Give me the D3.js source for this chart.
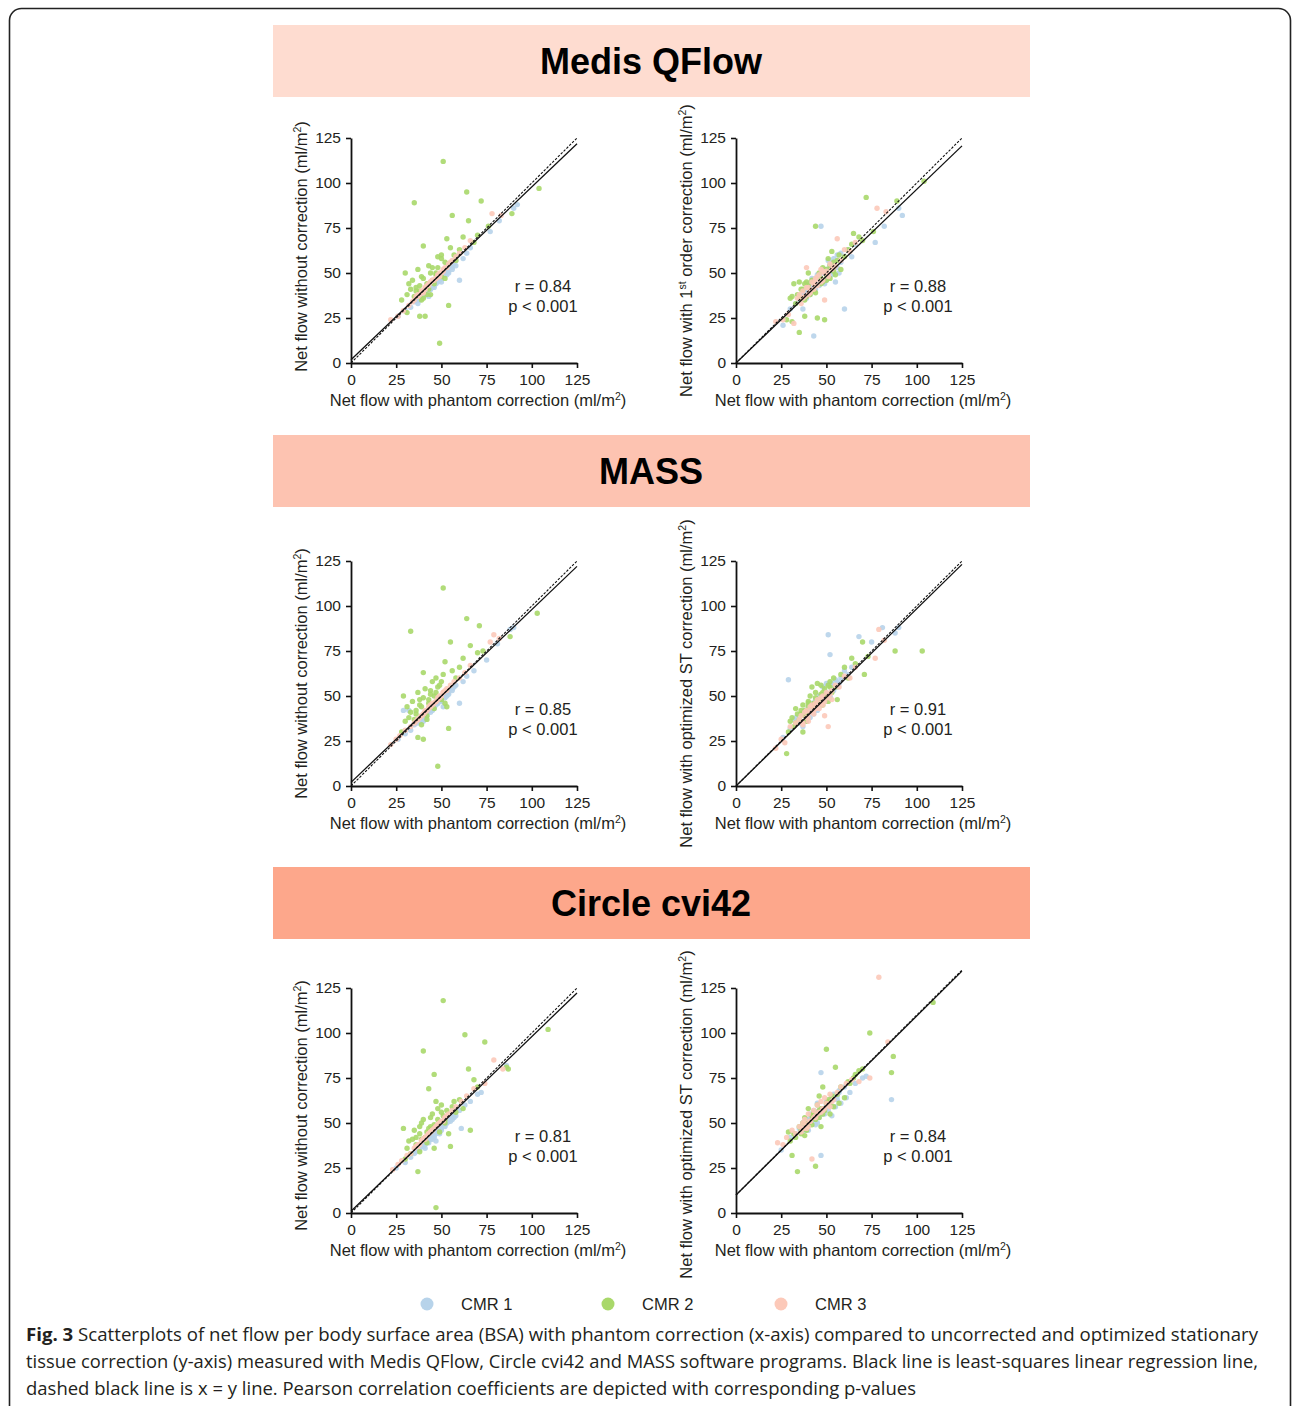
<!DOCTYPE html>
<html>
<head>
<meta charset="utf-8">
<script src="https://cdn.jsdelivr.net/npm/d3@7"></script>
<style>
  html, body { margin: 0; padding: 0; background: #fff; }
  svg text { font-family: "Liberation Sans", Arial, sans-serif; fill: #231f20; }
</style>
</head>
<body>
<svg id="fig" width="1293" height="1406"></svg>
<script>
// ---- data ----
const softwares = ["Medis QFlow", "MASS", "Circle cvi42"];
const series = ["CMR 1", "CMR 2", "CMR 3"];
const seriesColors = ["#b7d3ea", "#a9d86a", "#fcc9b9"];
const bandColors = ["#fedcd0", "#fdc3b1", "#fda78b"];
const ticks = [0, 25, 50, 75, 100, 125];
const stats = [["0.84", "0.88"], ["0.85", "0.91"], ["0.81", "0.84"]];

// Medis QFlow
const medisX1 = [26, 30, 33, 35, 36, 37, 38, 39, 40, 41, 42, 43, 43, 44, 45, 46, 47, 47, 48, 49, 50, 50, 51, 52, 53, 54, 55, 56, 57, 58, 60, 62, 64, 66, 77, 82, 90, 92,
  38, 40, 42, 44, 46, 48, 50, 52, 54, 56, 58, 41, 45, 49, 53];
const medisNoCorr1 = [26, 29, 31, 34, 35, 33, 36, 37, 38, 40, 39, 42, 37, 41, 44, 42, 45, 44, 47, 46, 48, 45, 50, 49, 52, 50, 54, 53, 55, 57, 46, 58, 61, 64, 73, 79, 86, 88,
  35, 37, 40, 41, 43, 45, 47, 49, 51, 52, 54, 38, 42, 46, 49];
const medisFirst1 = [21, 30, 33, 35, 38, 30, 40, 36, 44, 38, 47, 15, 45, 41, 48, 43, 76, 46, 50, 44, 52, 47, 57, 54, 49, 58, 45, 60, 50, 56, 30, 63, 59, 66, 67, 76, 86, 82,
  39, 42, 40, 47, 44, 51, 46, 55, 50, 53, 61, 43, 49, 45, 56];
const medisX2 = [28, 30, 31, 31, 32, 33, 34, 35, 35, 36, 37, 38, 38, 39, 40, 40, 41, 42, 43, 44, 45, 46, 47, 48, 49, 50, 50, 51, 52, 53, 54, 55, 56, 57, 58, 60, 62, 64, 65, 68, 70, 72, 76, 89, 104,
  36, 38, 40, 42, 44, 46, 48, 50, 52, 54, 39, 43, 47];
const medisNoCorr2 = [35, 50, 28, 38, 44, 41, 46, 89, 37, 42, 52, 26, 40, 48, 65, 36, 26, 44, 54, 38, 53, 46, 50, 59, 11, 60, 48, 112, 56, 69, 32, 64, 82, 60, 57, 63, 70, 95, 79, 67, 71, 90, 76, 83, 97,
  40, 43, 47, 38, 50, 44, 53, 58, 47, 55, 35, 41, 49];
const medisFirst2 = [24, 36, 23, 37, 44, 33, 38, 17, 45, 36, 41, 26, 44, 37, 42, 50, 38, 45, 40, 76, 25, 48, 44, 53, 24, 52, 46, 58, 47, 62, 56, 49, 57, 60, 52, 59, 63, 66, 72, 70, 68, 92, 73, 90, 101,
  41, 35, 43, 46, 39, 50, 45, 49, 54, 51, 45, 40, 47];
const medisX3 = [22, 26, 29, 32, 34, 35, 36, 37, 38, 39, 40, 41, 42, 43, 44, 45, 46, 47, 48, 49, 50, 51, 52, 54, 56, 58, 60, 63, 66, 78, 83,
  37, 39, 41, 43, 45, 47, 49, 51, 53, 55, 40, 44, 48];
const medisNoCorr3 = [24, 26, 29, 32, 34, 35, 37, 37, 38, 39, 40, 42, 43, 44, 45, 46, 46, 47, 49, 50, 50, 52, 53, 55, 57, 59, 61, 64, 68, 83, 82,
  38, 40, 41, 43, 46, 47, 48, 51, 53, 56, 39, 45, 48];
const medisFirst3 = [23, 24, 27, 22, 36, 38, 33, 40, 37, 53, 42, 39, 45, 41, 47, 43, 49, 52, 46, 35, 51, 48, 55, 53, 69, 57, 63, 62, 67, 86, 84,
  36, 42, 40, 44, 48, 45, 50, 49, 52, 54, 38, 46, 51];

// MASS
const massX1 = [26, 29, 30, 32, 33, 35, 36, 37, 38, 39, 40, 41, 42, 43, 44, 45, 46, 47, 48, 49, 50, 51, 52, 52, 53, 54, 55, 56, 58, 60, 62, 64, 68, 75, 81, 88, 90,
  38, 40, 42, 44, 46, 48, 50, 52, 54, 56, 41, 45, 49, 53, 57];
const massNoCorr1 = [26, 42, 29, 42, 31, 34, 36, 35, 37, 38, 36, 40, 39, 42, 41, 44, 43, 45, 46, 48, 47, 44, 50, 49, 52, 51, 54, 53, 56, 46, 58, 61, 64, 70, 79, 87, 88,
  36, 38, 41, 42, 44, 46, 48, 50, 52, 54, 37, 42, 47, 50, 55];
const massOptST1 = [27, 59, 32, 37, 38, 35, 40, 33, 42, 36, 44, 38, 46, 40, 48, 43, 50, 45, 55, 47, 57, 84, 73, 49, 57, 53, 59, 55, 60, 64, 62, 66, 83, 80, 88, 85, 88,
  39, 41, 43, 45, 47, 49, 52, 50, 56, 58, 44, 42, 50, 54, 57];
const massX2 = [28, 29, 30, 31, 32, 33, 33, 34, 35, 36, 37, 37, 38, 39, 40, 40, 41, 42, 43, 44, 45, 46, 47, 48, 49, 50, 51, 52, 53, 54, 55, 56, 58, 60, 62, 64, 66, 70, 71, 73, 88, 103,
  36, 38, 40, 42, 44, 46, 48, 50, 52, 39, 43, 47, 51];
const massNoCorr2 = [30, 50, 36, 44, 38, 86, 41, 47, 37, 42, 27, 52, 48, 44, 26, 63, 54, 39, 46, 53, 58, 50, 60, 11, 56, 48, 110, 69, 44, 32, 80, 64, 60, 66, 71, 93, 78, 74, 89, 75, 83, 96,
  40, 45, 49, 37, 51, 43, 55, 58, 46, 34, 48, 52, 62];
const massOptST2 = [18, 30, 36, 38, 33, 43, 35, 40, 37, 42, 30, 45, 39, 41, 47, 44, 50, 55, 46, 52, 57, 48, 56, 45, 54, 50, 47, 58, 52, 60, 55, 48, 62, 66, 60, 71, 68, 80, 62, 72, 75, 75,
  40, 42, 46, 44, 49, 47, 52, 50, 55, 36, 45, 51, 56];
const massX3 = [22, 25, 27, 30, 33, 35, 36, 37, 38, 39, 40, 41, 42, 43, 44, 45, 46, 47, 48, 49, 50, 51, 53, 55, 57, 60, 63, 66, 77, 79, 82,
  37, 39, 41, 43, 45, 47, 49, 51, 53, 40, 44, 48, 52];
const massNoCorr3 = [23, 26, 28, 31, 33, 35, 36, 37, 38, 39, 40, 41, 42, 43, 44, 45, 46, 47, 48, 49, 50, 52, 54, 56, 58, 60, 63, 67, 80, 84, 82,
  37, 39, 42, 44, 46, 47, 50, 52, 53, 40, 45, 49, 53];
const massOptST3 = [21, 26, 24, 33, 35, 37, 39, 34, 41, 42, 38, 44, 45, 40, 46, 48, 43, 49, 50, 39, 52, 33, 53, 56, 55, 61, 60, 66, 71, 87, 81,
  35, 38, 41, 42, 44, 46, 47, 49, 48, 36, 43, 45, 51];

// Circle cvi42
const circleX1 = [25, 30, 33, 35, 36, 37, 38, 39, 40, 41, 42, 43, 44, 45, 46, 47, 47, 48, 49, 50, 51, 52, 53, 54, 55, 56, 57, 58, 60, 61, 63, 66, 70, 72, 86,
  38, 40, 42, 44, 46, 48, 50, 52, 54, 56, 41, 45, 49, 53, 57];
const circleNoCorr1 = [25, 28, 31, 33, 34, 36, 35, 37, 38, 36, 40, 39, 41, 43, 42, 44, 40, 46, 45, 47, 49, 48, 50, 52, 51, 53, 55, 54, 57, 47, 60, 62, 66, 67, 82,
  36, 37, 39, 42, 43, 45, 46, 49, 51, 52, 38, 41, 44, 50, 53];
const circleOptST1 = [35, 42, 44, 47, 45, 50, 48, 52, 46, 55, 51, 57, 49, 61, 53, 32, 78, 58, 55, 62, 57, 60, 54, 66, 59, 63, 68, 61, 70, 64, 67, 72, 75, 76, 63,
  46, 49, 52, 54, 57, 55, 60, 62, 63, 65, 53, 50, 58, 64, 67];
const circleX2 = [29, 30, 31, 32, 33, 34, 35, 36, 37, 38, 38, 39, 40, 41, 42, 43, 44, 45, 46, 46, 47, 48, 49, 50, 51, 52, 53, 54, 55, 56, 57, 58, 60, 62, 63, 65, 66, 68, 70, 74, 86, 87, 109,
  36, 38, 40, 42, 44, 46, 48, 50, 52, 39, 43, 47, 51];
const circleNoCorr2 = [47, 30, 36, 40, 33, 41, 46, 38, 23, 34, 44, 50, 90, 42, 39, 69, 48, 55, 77, 36, 3, 52, 45, 60, 118, 50, 57, 44, 37, 59, 62, 56, 63, 58, 99, 80, 46, 74, 70, 95, 81, 80, 102,
  42, 48, 52, 45, 53, 49, 58, 56, 52, 41, 47, 62, 54];
const circleOptST2 = [45, 40, 32, 44, 42, 23, 48, 46, 50, 43, 53, 47, 58, 51, 49, 56, 26, 60, 53, 65, 48, 70, 57, 91, 62, 55, 65, 59, 81, 66, 61, 70, 64, 73, 72, 75, 77, 79, 80, 100, 78, 87, 117,
  44, 50, 49, 54, 52, 57, 55, 61, 60, 46, 55, 58, 63];
const circleX3 = [23, 26, 28, 31, 33, 35, 36, 37, 38, 39, 40, 41, 42, 43, 44, 45, 46, 47, 48, 49, 50, 52, 54, 56, 58, 61, 64, 68, 74, 79, 84,
  37, 39, 41, 43, 45, 47, 49, 51, 53, 40, 44, 48, 52];
const circleNoCorr3 = [24, 27, 29, 32, 33, 36, 37, 37, 38, 40, 41, 41, 43, 44, 45, 46, 47, 48, 49, 50, 51, 53, 55, 57, 59, 62, 65, 69, 72, 85, 80,
  38, 40, 42, 44, 46, 48, 50, 51, 54, 41, 45, 49, 53];
const circleOptST3 = [39, 38, 42, 46, 44, 48, 45, 50, 52, 47, 55, 51, 30, 57, 53, 60, 56, 62, 58, 64, 61, 66, 63, 67, 70, 72, 74, 73, 75, 131, 95,
  47, 49, 51, 53, 55, 56, 58, 60, 62, 48, 54, 57, 59];

// regression line [intercept, slope] and identity (dashed) line per panel
const regLines = [[[1.8, 0.96], [0, 0.965]], [[2, 0.96], [0, 0.985]], [[1, 0.97], [10, 0.995]]];
const idLines = [[[0, 1], [0, 1]], [[0, 1], [0, 1]], [[0, 1], [10, 1]]];

const xData = [
  [medisX1, medisX2, medisX3],
  [massX1, massX2, massX3],
  [circleX1, circleX2, circleX3]
];
const yData = [
  [[medisNoCorr1, medisNoCorr2, medisNoCorr3], [medisFirst1, medisFirst2, medisFirst3]],
  [[massNoCorr1, massNoCorr2, massNoCorr3], [massOptST1, massOptST2, massOptST3]],
  [[circleNoCorr1, circleNoCorr2, circleNoCorr3], [circleOptST1, circleOptST2, circleOptST3]]
];

const captionLines = [
  "Scatterplots of net flow per body surface area (BSA) with phantom correction (x-axis) compared to uncorrected and optimized stationary",
  "tissue correction (y-axis) measured with Medis QFlow, Circle cvi42 and MASS software programs. Black line is least-squares linear regression line,",
  "dashed black line is x = y line. Pearson correlation coefficients are depicted with corresponding p-values"
];

// ---- drawing ----
const svg = d3.select("#fig");

// outer frame
svg.append("rect")
  .attr("x", 9.5).attr("y", 8.5)
  .attr("width", 1281).attr("height", 1430)
  .attr("rx", 12)
  .style("fill", "none")
  .style("stroke", "#222")
  .style("stroke-width", 1.6);

const bandTops = [25, 435, 867];
const plotTops = [138, 561, 988];
const plotLefts = [351, 736];
const plotW = 226, plotH = 225;
// vertical nudge of the rotated y titles
const yLabelShift = [[-4, 0], [0, 10], [5, 14]];

const yLabelFor = (row, col) => {
  if (col === 0) return [["Net flow without correction (ml/m", false], ["2", true], [")", false]];
  if (row === 0) return [["Net flow with 1", false], ["st", true], [" order correction (ml/m", false], ["2", true], [")", false]];
  return [["Net flow with optimized ST correction (ml/m", false], ["2", true], [")", false]];
};

const addRich = (textSel, parts) => {
  parts.forEach(([t, sup]) => {
    const ts = textSel.append("tspan").text(t);
    if (sup) ts.attr("baseline-shift", "super").style("font-size", "10.5px");
  });
};

softwares.forEach((name, row) => {
  // title band
  svg.append("rect")
    .attr("x", 273).attr("y", bandTops[row])
    .attr("width", 757).attr("height", 72)
    .style("fill", bandColors[row]);
  svg.append("text")
    .attr("x", 651).attr("y", bandTops[row] + 49)
    .attr("text-anchor", "middle")
    .style("font-size", "36px")
    .style("font-weight", "bold")
    .style("fill", "#000")
    .text(name);

  [0, 1].forEach((col) => {
    const x0 = plotLefts[col], y0 = plotTops[row];
    const g = svg.append("g").attr("transform", `translate(${x0},${y0})`);
    const x = d3.scaleLinear().domain([0, 125]).range([0, plotW]);
    const y = d3.scaleLinear().domain([0, 125]).range([plotH, 0]);

    // points
    series.forEach((s, si) => {
      const xs = xData[row][si];
      const ys = yData[row][col][si];
      g.append("g")
        .selectAll("circle")
        .data(xs.map((v, i) => [v, ys[i]]))
        .enter()
        .append("circle")
        .attr("cx", (d) => x(d[0]))
        .attr("cy", (d) => y(d[1]))
        .attr("r", 2.7)
        .style("fill", seriesColors[si])
        .style("fill-opacity", 0.9);
    });

    // x = y dashed line
    const [ia, ib] = idLines[row][col];
    g.append("line")
      .attr("x1", x(0)).attr("y1", y(ia))
      .attr("x2", x(125)).attr("y2", y(ia + ib * 125))
      .style("stroke", "#111")
      .style("stroke-width", 1.1)
      .style("stroke-dasharray", "2.5,1.5");

    // regression line
    const [ra, rb] = regLines[row][col];
    g.append("line")
      .attr("x1", x(0)).attr("y1", y(ra))
      .attr("x2", x(125)).attr("y2", y(ra + rb * 125))
      .style("stroke", "#111")
      .style("stroke-width", 1.3);

    // axes
    const xAxis = g.append("g")
      .attr("transform", `translate(0,${plotH})`)
      .call(d3.axisBottom(x).tickValues(ticks).tickSize(5).tickSizeOuter(0).tickPadding(6));
    const yAxis = g.append("g")
      .call(d3.axisLeft(y).tickValues(ticks).tickSize(5).tickSizeOuter(0).tickPadding(5));
    [xAxis, yAxis].forEach((a) => {
      a.select(".domain").style("stroke", "#111").style("stroke-width", 1.8);
      a.selectAll(".tick line").style("stroke", "#111").style("stroke-width", 1.6);
      a.selectAll(".tick text")
        .style("font-size", "15.5px")
        .style("font-family", '"Liberation Sans", Arial, sans-serif')
        .style("fill", "#231f20");
    });

    // axis titles
    const xl = g.append("text")
      .attr("x", plotW / 2 + 14).attr("y", plotH + 43)
      .attr("text-anchor", "middle")
      .style("font-size", "16.5px");
    addRich(xl, [["Net flow with phantom correction (ml/m", false], ["2", true], [")", false]]);

    const yl = g.append("text")
      .attr("transform", `translate(-44,${plotH / 2 + yLabelShift[row][col]}) rotate(-90)`)
      .attr("text-anchor", "middle")
      .style("font-size", "16.5px");
    addRich(yl, yLabelFor(row, col));

    // r / p annotation
    const ax = col === 0 ? 192 : 182;
    g.append("text")
      .attr("x", ax).attr("y", y(40) + 1)
      .attr("text-anchor", "middle")
      .style("font-size", "16.5px")
      .text(`r = ${stats[row][col]}`);
    g.append("text")
      .attr("x", ax).attr("y", y(40) + 21)
      .attr("text-anchor", "middle")
      .style("font-size", "16.5px")
      .text("p < 0.001");
  });
});

// legend
const legendX = [427, 608, 781];
const legend = svg.append("g");
series.forEach((s, i) => {
  legend.append("circle")
    .attr("cx", legendX[i]).attr("cy", 1304)
    .attr("r", 6.5)
    .style("fill", seriesColors[i]);
  legend.append("text")
    .attr("x", legendX[i] + 34).attr("y", 1310)
    .style("font-size", "16.5px")
    .text(s);
});

// caption
const capY = [1341, 1368, 1395];
const capEnd = [1258, 1258, 916];
captionLines.forEach((line, i) => {
  const t = svg.append("text")
    .attr("x", 26).attr("y", capY[i])
    .attr("textLength", capEnd[i] - 26)
    .attr("lengthAdjust", "spacingAndGlyphs")
    .style("font-family", '"Open Sans", "Noto Sans", sans-serif')
    .style("font-size", "18px")
    .style("fill", "#231f20");
  if (i === 0) {
    t.append("tspan").style("font-weight", "bold").text("Fig. 3");
    t.append("tspan").text(" " + line);
  } else {
    t.text(line);
  }
});
</script>
</body>
</html>
